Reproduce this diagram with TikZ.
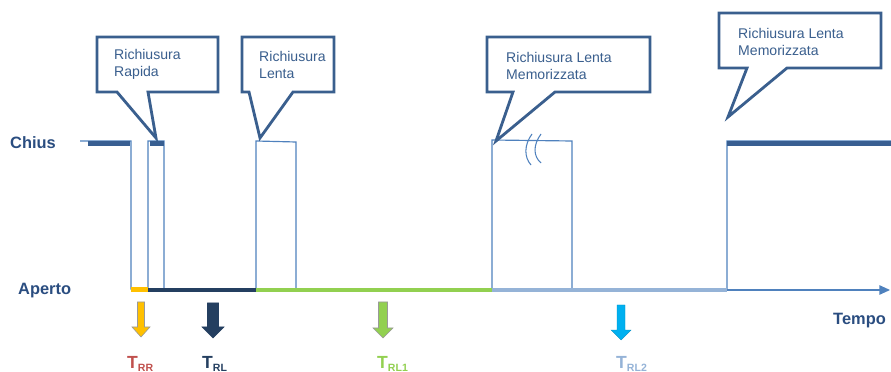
\documentclass[tikz,border=0pt]{standalone}
\usepackage{fontspec}
\setmainfont{Liberation Sans}
\usepackage{xcolor}
\usetikzlibrary{arrows.meta}

\definecolor{sigblue}{HTML}{4F81BD}
\definecolor{barblue}{HTML}{385F92}
\definecolor{navybar}{HTML}{243F60}
\definecolor{paleblue}{HTML}{95B3D7}
\definecolor{limegreen}{HTML}{92D050}
\definecolor{amber}{HTML}{FFC000}
\definecolor{skyblue}{HTML}{00B0F0}
\definecolor{rrred}{HTML}{C0504D}
\definecolor{labelblue}{HTML}{2A4D80}
\definecolor{callblue}{HTML}{3A5F8E}

\begin{document}
\begin{tikzpicture}[
    x=0.03cm, y=-0.03cm,
    every node/.style={inner sep=0pt},
    axislabel/.style={font=\fontsize{14}{16}\selectfont\bfseries, text=labelblue},
    calltext/.style={font=\fontsize{12}{14.5}\selectfont, text=callblue, align=left, anchor=west},
    balloon/.style={draw=callblue, line width=2.4pt, line join=miter, fill=white},
    signal/.style={draw=sigblue, line width=1pt},
    topbar/.style={draw=barblue, line width=4.2pt},
    lowbar/.style={line width=4pt},
    tlabel/.style={font=\fontsize{15}{17}\selectfont\bfseries, anchor=west},
    sub/.style={font=\fontsize{9}{10}\selectfont\bfseries}
  ]
  \useasboundingbox (0,0) rectangle (891,372);

  % ── axis and signal ─────────────────────────────────────────────────────
  \coordinate (origin) at (131,290);
  \coordinate (tend) at (890,290);
  \draw[sigblue, line width=1pt, -{Triangle[length=9pt, width=8pt]}] (origin) -- (tend);

  \draw[signal] (80,141) -- (131,141) -- (131,289) -- (148,289) -- (148,141)
    -- (164,141) -- (164,289) -- (256,289) -- (256,141) -- (296,142)
    -- (296,289) -- (492,289) -- (492,140) -- (572,141) -- (572,289)
    -- (727,289) -- (727,141) -- (891,141);

  % closed levels
  \draw[topbar] (88,143.5) -- (130,143.5);
  \draw[topbar] (150,143.5) -- (164,143.5);
  \draw[topbar] (727,143.5) -- (891,143.5);

  % open intervals (timers)
  \draw[lowbar, amber] (131,289.5) -- (148,289.5);
  \draw[lowbar, navybar] (148,290) -- (256,290);
  \draw[lowbar, limegreen] (256,290) -- (492,290);
  \draw[lowbar, paleblue] (492,290) -- (727,290);

  % break marks on the memorised pulse
  \draw[sigblue, line width=0.9pt] (532,134) .. controls (524,145) and (524,157) .. (531,165);
  \draw[sigblue, line width=0.9pt] (541,134) .. controls (533,145) and (533,156) .. (541,163);

  % ── levels and time ─────────────────────────────────────────────────────
  \node[axislabel, anchor=west] (chius) at (10,143) {Chius};
  \node[axislabel, anchor=west] (aperto) at (18,291) {Aperto};
  \node[axislabel, anchor=west] (tempo) at (833,321) {Tempo};

  % ── callouts ────────────────────────────────────────────────────────────
  \draw[balloon] (97,37) -- (218,37) -- (218,92) -- (148,92) -- (156,138)
    -- (117,92) -- (97,92) -- cycle;
  \node[calltext] (rapida) at (114,64.5) {Richiusura\\Rapida};

  \draw[balloon] (242,37) -- (334,37) -- (334,92) -- (293,92) -- (260,138)
    -- (249,92) -- (242,92) -- cycle;
  \node[calltext] (lenta) at (259,64.5) {Richiusura\\Lenta};

  \draw[balloon] (487,37) -- (650,37) -- (650,92) -- (555,92) -- (496,141)
    -- (513,92) -- (487,92) -- cycle;
  \node[calltext] (memo) at (506,65.5) {Richiusura Lenta\\Memorizzata};

  \draw[balloon] (719,13) -- (881,13) -- (881,68) -- (787,68) -- (728,117)
    -- (747,68) -- (719,68) -- cycle;
  \node[calltext] (memob) at (738,41.5) {Richiusura Lenta\\Memorizzata};

  % ── timer arrows ────────────────────────────────────────────────────────
  \filldraw[fill=amber, draw=gray!80, line width=0.5pt]
    (137.5,302) -- (144.5,302) -- (144.5,327) -- (150,327) -- (141,337)
    -- (132,327) -- (137.5,327) -- cycle;
  \filldraw[fill=navybar, draw=navybar, line width=0.5pt]
    (207.5,303) -- (218.5,303) -- (218.5,327) -- (224,327) -- (213,338)
    -- (202,327) -- (207.5,327) -- cycle;
  \filldraw[fill=limegreen, draw=gray!80, line width=0.5pt]
    (378.5,302) -- (387.5,302) -- (387.5,328) -- (393,328) -- (383,338)
    -- (373,328) -- (378.5,328) -- cycle;
  \filldraw[fill=skyblue, draw=skyblue!80!black, line width=0.3pt]
    (617,305) -- (625,305) -- (625,330) -- (631,330) -- (621,340)
    -- (611,330) -- (617,330) -- cycle;

  \node[tlabel, text=rrred] (trr) at (127,364) {T\raisebox{-2.5pt}{\fontsize{9}{10}\selectfont RR}};
  \node[tlabel, text=navybar] (trl) at (202,364) {T\raisebox{-2.5pt}{\fontsize{9}{10}\selectfont RL}};
  \node[tlabel, text=limegreen] (trla) at (377,364) {T\raisebox{-2.5pt}{\fontsize{9}{10}\selectfont RL1}};
  \node[tlabel, text=paleblue] (trlb) at (616,364) {T\raisebox{-2.5pt}{\fontsize{9}{10}\selectfont RL2}};

\end{tikzpicture}
\end{document}
